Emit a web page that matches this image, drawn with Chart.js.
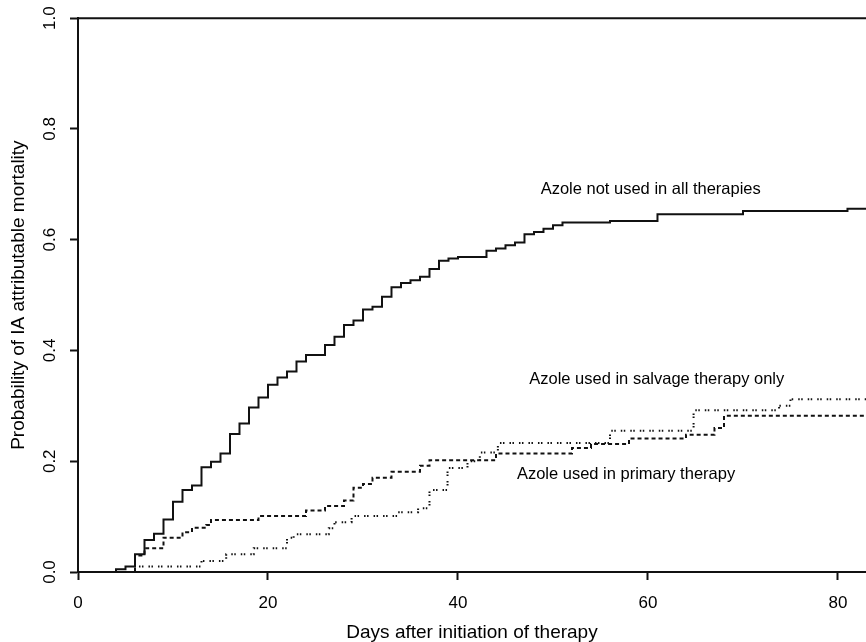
<!DOCTYPE html>
<html>
<head>
<meta charset="utf-8">
<script src="https://cdn.jsdelivr.net/npm/chart.js@4.4.0/dist/chart.umd.min.js"></script>
<style>
  html, body { margin: 0; padding: 0; background: #fff; overflow: hidden; }
</style>
</head>
<body>
<canvas id="grafico" width="866" height="642"></canvas>
<script>
// Azole not used in all therapies (solid)
const diasNoUsado = [0, 4, 5, 6, 7, 8, 9, 10, 11, 12, 13, 14, 15, 16, 17, 18, 19, 20, 21, 22, 23, 24,
  26, 27, 28, 29, 30, 31, 32, 33, 34, 35, 36, 37, 38, 39, 40, 43, 44, 45, 46, 47, 48, 49, 50, 51,
  56, 61, 70, 81, 84];
const probNoUsado = [0, 0.005, 0.010, 0.032, 0.058, 0.069, 0.095, 0.127, 0.148, 0.156, 0.189, 0.199,
  0.214, 0.249, 0.268, 0.297, 0.315, 0.338, 0.351, 0.362, 0.380, 0.392, 0.410, 0.425, 0.446, 0.454,
  0.474, 0.479, 0.497, 0.514, 0.522, 0.527, 0.533, 0.547, 0.562, 0.566, 0.569, 0.580, 0.584, 0.590,
  0.595, 0.610, 0.614, 0.620, 0.626, 0.631, 0.634, 0.646, 0.652, 0.656, 0.656];

// Azole used in primary therapy (dashed)
const diasPrimaria = [0, 6, 7, 9, 11, 12, 13.5, 14, 19, 24, 26, 28, 29, 30, 31, 33, 36, 37, 44, 52,
  54, 58, 64, 67, 68, 84];
const probPrimaria = [0, 0.030, 0.043, 0.062, 0.072, 0.080, 0.085, 0.094, 0.101, 0.111, 0.119, 0.129,
  0.152, 0.159, 0.170, 0.181, 0.192, 0.202, 0.214, 0.224, 0.231, 0.241, 0.248, 0.260, 0.282, 0.282];

// Azole used in salvage therapy only (dotted)
const diasRescate = [0, 6, 13, 15.6, 18.5, 22, 22.7, 26.4, 27, 28.8, 33.7, 35.8, 37, 38.9, 41, 42.3,
  44.2, 56, 64.8, 73.8, 75, 84];
const probRescate = [0, 0.010, 0.020, 0.032, 0.043, 0.062, 0.068, 0.079, 0.090, 0.101, 0.108, 0.115,
  0.148, 0.188, 0.200, 0.216, 0.233, 0.255, 0.292, 0.300, 0.312, 0.312];

const ticksX = [0, 20, 40, 60, 80];
const ticksY = [0, 0.2, 0.4, 0.6, 0.8, 1.0];

const etiquetas = [
  { texto: "Azole not used in all therapies", dia: 48.7, prob: 0.690 },
  { texto: "Azole used in salvage therapy only", dia: 47.5, prob: 0.348 },
  { texto: "Azole used in primary therapy", dia: 46.2, prob: 0.176 },
];

const FUENTE = '"Liberation Sans", Arial, sans-serif';
const NEGRO = "#111";

function armarPuntos(dias, probs) {
  return dias.map(function (d, i) {
    return { x: d, y: probs[i] };
  });
}

const pluginMarco = {
  id: "marco",
  afterDraw: function (chart) {
    const ctx = chart.ctx;
    const area = chart.chartArea;
    const sx = chart.scales.x;
    const sy = chart.scales.y;
    ctx.save();
    ctx.strokeStyle = NEGRO;
    ctx.lineWidth = 2;
    ctx.beginPath();
    ctx.moveTo(area.left - 1, area.top);
    ctx.lineTo(area.right, area.top);
    ctx.stroke();

    ctx.fillStyle = "#000";
    ctx.font = "16.5px " + FUENTE;
    ctx.textAlign = "left";
    ctx.textBaseline = "middle";
    etiquetas.forEach(function (e) {
      ctx.fillText(e.texto, sx.getPixelForValue(e.dia), sy.getPixelForValue(e.prob));
    });
    ctx.restore();
  },
};

new Chart(document.getElementById("grafico"), {
  type: "line",
  data: {
    datasets: [
      {
        label: "Azole not used in all therapies",
        data: armarPuntos(diasNoUsado, probNoUsado),
        borderColor: NEGRO,
        borderWidth: 2,
        stepped: "before",
        pointRadius: 0,
      },
      {
        label: "Azole used in primary therapy",
        data: armarPuntos(diasPrimaria, probPrimaria),
        borderColor: NEGRO,
        borderWidth: 2,
        borderDash: [4, 3],
        stepped: "before",
        pointRadius: 0,
      },
      {
        label: "Azole used in salvage therapy only",
        data: armarPuntos(diasRescate, probRescate),
        borderColor: NEGRO,
        borderWidth: 2,
        borderDash: [1.5, 1.5, 1.5, 5],
        stepped: "before",
        pointRadius: 0,
      },
    ],
  },
  options: {
    responsive: false,
    devicePixelRatio: 1,
    animation: false,
    layout: { padding: { top: 18, right: 0, left: 0, bottom: 0 } },
    plugins: {
      legend: { display: false },
      tooltip: { enabled: false },
    },
    scales: {
      x: {
        type: "linear",
        min: 0,
        max: 82.95,
        afterBuildTicks: function (scale) {
          scale.ticks = ticksX.map(function (v) { return { value: v }; });
        },
        afterFit: function (scale) { scale.height = 70; },
        ticks: {
          color: "#000",
          font: { family: FUENTE, size: 17 },
          padding: 13,
          maxRotation: 0,
        },
        grid: {
          drawOnChartArea: false,
          drawTicks: true,
          tickLength: 8,
          tickWidth: 2,
          tickColor: NEGRO,
        },
        border: { display: true, color: NEGRO, width: 2 },
        title: {
          display: true,
          text: "Days after initiation of therapy",
          color: "#000",
          font: { family: FUENTE, size: 19, lineHeight: 1 },
          padding: { top: 4, bottom: 0 },
        },
      },
      y: {
        type: "linear",
        min: 0,
        max: 1,
        afterBuildTicks: function (scale) {
          scale.ticks = ticksY.map(function (v) { return { value: v }; });
        },
        afterFit: function (scale) { scale.width = 78; },
        ticks: {
          color: "#000",
          font: { family: FUENTE, size: 17 },
          minRotation: 90,
          maxRotation: 90,
          crossAlign: "center",
          padding: 8,
          callback: function (v) { return Number(v).toFixed(1); },
        },
        grid: {
          drawOnChartArea: false,
          drawTicks: true,
          tickLength: 8,
          tickWidth: 2,
          tickColor: NEGRO,
        },
        border: { display: true, color: NEGRO, width: 2 },
        title: {
          display: true,
          text: "Probability of IA attributable mortality",
          color: "#000",
          font: { family: FUENTE, size: 19, lineHeight: 1 },
          padding: { top: 9, bottom: 0 },
        },
      },
    },
  },
  plugins: [pluginMarco],
});
</script>
</body>
</html>
